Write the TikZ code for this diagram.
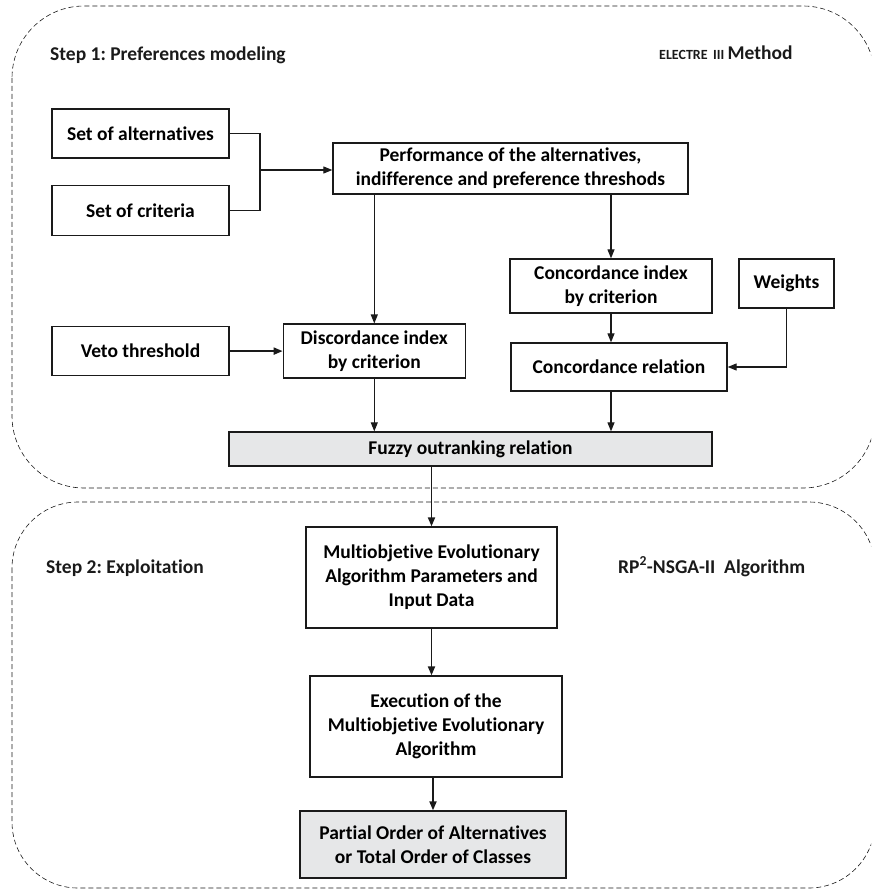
\documentclass[tikz,border=0pt]{standalone}
\usepackage{fontspec}
\setmainfont{Carlito}[Ligatures={NoCommon}]
\usepackage{tikz}
\usetikzlibrary{arrows.meta,positioning}
\definecolor{ink}{HTML}{1A1A1A}
\definecolor{shade}{HTML}{E6E7E8}
\newcommand{\txtsize}{\fontsize{19.5}{24}\selectfont}
\frenchspacing
\tikzset{
  box/.style={rectangle, draw=ink, fill=white, line width=1.3pt, align=center,
              inner sep=4pt, minimum width=177pt, minimum height=49pt},
  outbox/.style={box, fill=shade},
  zone/.style={draw=ink, dashed, dash pattern=on 5pt off 3pt, line width=0.6pt},
  ln/.style={draw=ink, line width=1.1pt},
  fl/.style={ln, -{Triangle[length=9pt,width=7pt]}},
  flt/.style={fl, line width=1.9pt},
  lbl/.style={font=\bfseries\txtsize, text=ink, inner sep=0pt}
}
\begin{document}
\begin{tikzpicture}[x=1pt, y=1pt, font=\bfseries\txtsize]
  \clip (0,0) rectangle (871,-890);
  % dashed step areas
  \draw[zone, rounded corners=72pt] (12,-6) rectangle (875,-488);
  \draw[zone, rounded corners=66pt] (12,-502) rectangle (875,-888);
  \node[lbl, anchor=base west] (s1) at (50,-61) {Step 1: Preferences modeling};
  \node[lbl, anchor=base west] (m1) at (659,-60) {{\fontsize{14}{16}\selectfont ELECTRE\, III}\,Method};
  \node[lbl, anchor=base west] (s2) at (46,-573) {Step 2: Exploitation};
  \node[lbl, anchor=base west] (m2) at (618,-573) {RP\textsuperscript{2}-NSGA-II\ \ Algorithm};
  % step 1
  \node[box] (alt) at (140.5,-133.5) {Set of alternatives};
  \node[box, minimum height=50pt, below=26pt of alt] (crit) {Set of criteria};
  \node[box, below=90pt of crit] (veto) {Veto threshold};
  \node[box, minimum width=182pt, minimum height=54pt, right=53pt of veto] (disc) {Discordance index\\by criterion};
  \node[box, minimum width=355pt, minimum height=51pt] (perf) at (510.5,-168.5) {Performance of the alternatives,\\indifference and preference threshods};
  \node[box, minimum width=202pt, minimum height=54pt] (conc) at (611,-286) {Concordance index\\by criterion};
  \node[box, minimum width=95pt] (wts) at (786.5,-283.5) {Weights};
  \node[box, minimum width=216pt, minimum height=48pt] (crel) at (619,-367) {Concordance relation};
  \node[outbox, minimum width=483pt, minimum height=34pt] (fuzzy) at (470.5,-449) {Fuzzy outranking relation};
  % step 2
  \node[box, minimum width=251pt, minimum height=101pt] (moea) at (431.5,-577.5) {Multiobjetive Evolutionary\\Algorithm Parameters and\\Input Data};
  \node[box, minimum width=252pt, minimum height=101pt] (exec) at (436,-726.5) {Execution of the\\Multiobjetive Evolutionary\\Algorithm};
  \node[outbox, minimum width=266pt, minimum height=67pt] (order) at (433,-844.5) {Partial Order of Alternatives\\or Total Order of Classes};
  % connectors
  \coordinate (jn) at (260,-170);
  \draw[ln] (alt.east) -| (jn) |- (crit.east);
  \draw[fl] (jn) -- (jn -| perf.west);
  \draw[fl] (perf.south -| disc.north) -- (disc.north);
  \draw[fl] (perf.south -| conc.north) -- (conc.north);
  \draw[fl] (conc.south) -- (conc.south |- crel.north);
  \draw[fl] (wts.south) |- (crel.east);
  \draw[flt] (veto.east) -- (veto.east -| disc.west);
  \draw[fl] (disc.south) -- (disc.south |- fuzzy.north);
  \draw[fl] (crel.south -| conc) -- (fuzzy.north -| conc);
  \draw[flt] (fuzzy.south -| moea.north) -- (moea.north);
  \draw[flt] (moea.south) -- (moea.south |- exec.north);
  \draw[flt] (exec.south -| order.north) -- (order.north);
\end{tikzpicture}
\end{document}
